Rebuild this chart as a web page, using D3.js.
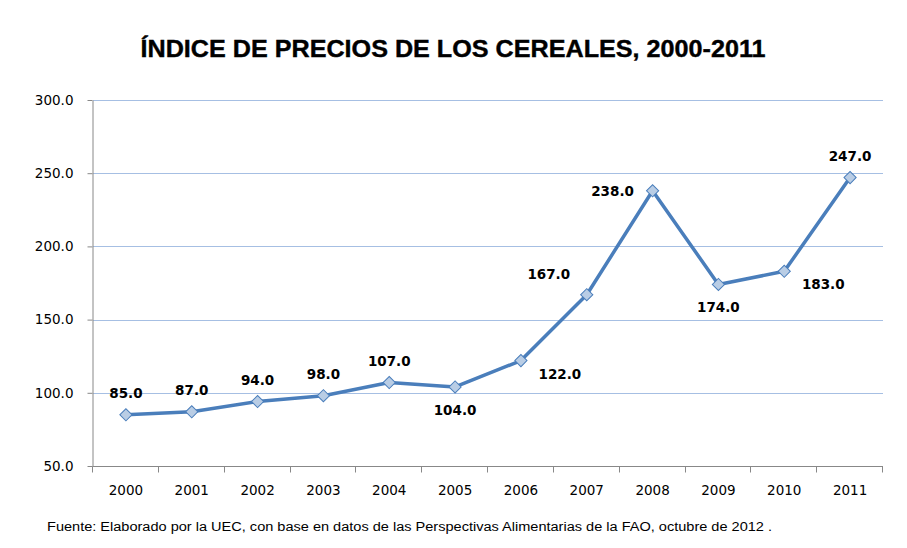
<!DOCTYPE html>
<html>
<head>
<meta charset="utf-8">
<script src="https://cdn.jsdelivr.net/npm/d3@7"></script>
<style>
  body { margin: 0; background: #fff; }
  svg { display: block; }
</style>
</head>
<body>
<div id="chart"></div>
<script>
const years = ["2000", "2001", "2002", "2003", "2004", "2005", "2006", "2007", "2008", "2009", "2010", "2011"];
const indexValues = [85, 87, 94, 98, 107, 104, 122, 167, 238, 174, 183, 247];
// where each data label sits relative to its point
const labelPlacement = ["above", "above", "above", "above", "above", "below", "right", "left-above", "left", "below", "right", "above"];
const yTicks = [50, 100, 150, 200, 250, 300];

const width = 907, height = 548;
const margin = { top: 100, right: 24, bottom: 82, left: 93 };

const svg = d3.select("#chart").append("svg")
  .attr("width", width)
  .attr("height", height);

const x = d3.scaleBand()
  .domain(years)
  .range([margin.left, width - margin.right]);

const y = d3.scaleLinear()
  .domain([50, 300])
  .range([height - margin.bottom, margin.top]);

// title
svg.append("text")
  .attr("x", 453)
  .attr("y", 57)
  .attr("text-anchor", "middle")
  .attr("textLength", 625)
  .attr("lengthAdjust", "spacingAndGlyphs")
  .style("font-family", "Liberation Sans, Arial, sans-serif")
  .style("font-weight", "bold")
  .style("font-size", "24px")
  .attr("stroke", "#000")
  .attr("stroke-width", 0.4)
  .text("ÍNDICE DE PRECIOS DE LOS CEREALES, 2000-2011");

// gridlines
svg.append("g")
  .selectAll("line")
  .data(yTicks.filter(d => d > 50))
  .join("line")
  .attr("x1", margin.left)
  .attr("x2", width - margin.right)
  .attr("y1", d => Math.round(y(d)) + 0.5)
  .attr("y2", d => Math.round(y(d)) + 0.5)
  .attr("stroke", "#a6bfe3")
  .attr("stroke-width", 1);

// y axis
const yAxis = svg.append("g")
  .attr("transform", `translate(${margin.left - 0.5},0)`)
  .call(d3.axisLeft(y).tickValues(yTicks).tickFormat(d3.format(".1f")).tickSize(5).tickSizeOuter(0));
yAxis.select(".domain").attr("stroke", "#888");
yAxis.selectAll(".tick line").attr("stroke", "#888");
yAxis.selectAll(".tick text")
  .attr("x", -19)
  .style("font-family", "DejaVu Sans, Verdana, sans-serif")
  .style("font-size", "13.5px")
  .attr("fill", "#000");

// x axis, ticks between categories
const xAxisG = svg.append("g")
  .attr("transform", `translate(0,${Math.round(y(50)) + 0.5})`);
xAxisG.append("line")
  .attr("x1", margin.left - 0.5)
  .attr("x2", width - margin.right)
  .attr("stroke", "#888");
xAxisG.selectAll("line.tk")
  .data(years.concat(["end"]))
  .join("line")
  .attr("class", "tk")
  .attr("x1", (d, i) => Math.round(margin.left + i * x.step()) - 0.5)
  .attr("x2", (d, i) => Math.round(margin.left + i * x.step()) - 0.5)
  .attr("y1", 0)
  .attr("y2", 6)
  .attr("stroke", "#888");
xAxisG.selectAll("text")
  .data(years)
  .join("text")
  .attr("x", d => x(d) + x.bandwidth() / 2)
  .attr("y", 28)
  .attr("text-anchor", "middle")
  .style("font-family", "DejaVu Sans, Verdana, sans-serif")
  .style("font-size", "13.5px")
  .text(d => d);

// line
const line = d3.line()
  .x((d, i) => x(years[i]) + x.bandwidth() / 2)
  .y(d => y(d));

svg.append("path")
  .datum(indexValues)
  .attr("d", line)
  .attr("fill", "none")
  .attr("stroke", "#4a7ebb")
  .attr("stroke-width", 3.5)
  .attr("stroke-linejoin", "round");

// diamond markers
svg.append("g")
  .selectAll("path")
  .data(indexValues)
  .join("path")
  .attr("transform", (d, i) => `translate(${x(years[i]) + x.bandwidth() / 2},${y(d)}) rotate(45)`)
  .attr("d", "M-4.3,-4.3H4.3V4.3H-4.3Z")
  .attr("fill", "#b9cde5")
  .attr("stroke", "#4a7ebb")
  .attr("stroke-width", 1);

// data labels
const offsets = {
  "above": [0, -17],
  "below": [0, 28],
  "right": [39, 18],
  "left-above": [-38, -16],
  "left": [-40, 5],
};
svg.append("g")
  .selectAll("text")
  .data(indexValues)
  .join("text")
  .attr("x", (d, i) => x(years[i]) + x.bandwidth() / 2 + offsets[labelPlacement[i]][0])
  .attr("y", (d, i) => y(d) + offsets[labelPlacement[i]][1])
  .attr("text-anchor", "middle")
  .style("font-family", "DejaVu Sans, Verdana, sans-serif")
  .style("font-weight", "bold")
  .style("font-size", "13.5px")
  .text(d => d3.format(".1f")(d));

// source note
svg.append("text")
  .attr("x", 47)
  .attr("y", 531)
  .attr("textLength", 725)
  .attr("lengthAdjust", "spacingAndGlyphs")
  .style("font-family", "Liberation Sans, Arial, sans-serif")
  .style("font-size", "12px")
  .text("Fuente: Elaborado por la UEC, con base en  datos de las Perspectivas Alimentarias de la FAO, octubre de 2012 .");
</script>
</body>
</html>
